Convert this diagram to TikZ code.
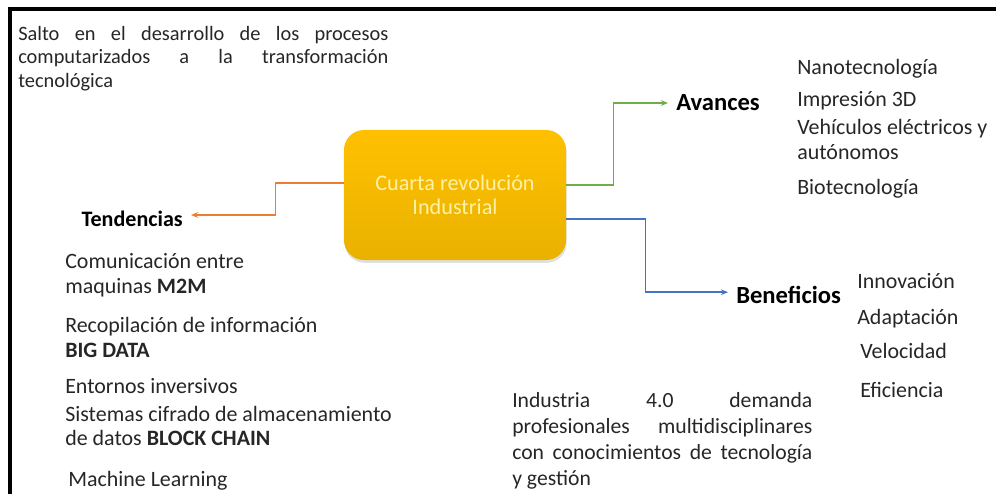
\documentclass[tikz,border=0pt]{standalone}
\usepackage{fontspec}
\setmainfont{Carlito}
\usetikzlibrary{positioning, arrows.meta, shadows}
\usepackage{xcolor}
\definecolor{tendorange}{HTML}{ED7D31}
\definecolor{avgreen}{HTML}{70AD47}
\definecolor{benblue}{HTML}{4472C4}
\definecolor{coregold}{HTML}{FFC000}
\definecolor{coredark}{HTML}{E9B200}
\definecolor{corefont}{HTML}{FFF2A6}
\definecolor{txtgray}{HTML}{262626}

\begin{document}
\begin{tikzpicture}[x=0.025cm, y=-0.025cm,
                core/.style={rectangle, rounded corners=0.5cm, minimum width=5.55cm, minimum height=3.25cm,
                    align=center, top color=coregold, bottom color=coredark, draw=none,
                    drop shadow={opacity=0.25, shadow xshift=0.5pt, shadow yshift=-2pt},
                    text=corefont, font=\fontsize{15.8}{17.2}\selectfont},
                head/.style={inner xsep=0.2cm, inner ysep=0pt, font=\fontsize{17.5}{20}\selectfont\bfseries, text=black},
                item/.style={anchor=base west, inner sep=0pt, text=txtgray, font=\fontsize{15.6}{18.5}\selectfont},
                para/.style={anchor=north west, inner sep=0pt, align=justify, text=txtgray},
                link/.style={-{Stealth[length=5pt, width=4pt]}, line width=1.1pt}
            ]
            \useasboundingbox (0,0) rectangle (996,494);
            % frame
            \draw[line width=2.2pt] (10,494) -- (10,9) -- (996,9);

            % texts on top and at the bottom
            \node[para, text width=9.25cm, font=\fontsize{14.5}{16.7}\selectfont] (intro) at (18,26)
                {Salto en el desarrollo de los procesos\linebreak computarizados a la transformación\linebreak tecnológica};
            \node[para, text width=7.5cm, font=\fontsize{15.4}{18.6}\selectfont] (demand) at (512,392)
                {Industria 4.0 demanda\linebreak profesionales multidisciplinares\linebreak con conocimientos de tecnología\linebreak y gestión};

            % center
            \node[core] (core) at (455,195) {Cuarta revolución\\Industrial};

            % headings
            \node[head, anchor=east, font=\fontsize{15.7}{19}\selectfont\bfseries] (tend) at (191,219) {Tendencias};
            \node[head, anchor=west] (avn) at (668,103) {Avances};
            \node[head, anchor=west] (ben) at (728,295) {Beneficios};

            \draw[link, tendorange] ([yshift=0.3cm]core.west) -- ++(-68,0) |- ([yshift=0.1cm]tend.east);
            \draw[link, avgreen] ([yshift=0.25cm]core.east) -- ++(47,0) |- (avn.west);
            \draw[link, benblue] ([yshift=-0.6cm]core.east) -- ++(79,0) |- ([yshift=0.07cm]ben.west);

            % Avances
            \node[item] (av1) at (797,74) {Nanotecnología};
            \node[item] (av2) at (797,106) {Impresión 3D};
            \node[item] (av3) at (797,134) {Vehículos eléctricos y};
            \node[item] (av4) at (797,159) {autónomos};
            \node[item] (av5) at (797,194) {Biotecnología};

            % Beneficios
            \node[item] (be1) at (857,288) {Innovación};
            \node[item] (be2) at (857,324) {Adaptación};
            \node[item] (be3) at (860,358) {Velocidad};
            \node[item] (be4) at (860,397) {Eficiencia};

            % Tendencias
            \node[item] (te1) at (65,268) {Comunicación entre};
            \node[item] (te2) at (65,293) {maquinas \textbf{M2M}};
            \node[item] (te3) at (65,332) {Recopilación de información};
            \node[item] (te4) at (65,357) {\textbf{BIG DATA}};
            \node[item] (te5) at (65,393) {Entornos inversivos};
            \node[item] (te6) at (65,421) {Sistemas cifrado de almacenamiento};
            \node[item] (te7) at (65,445) {de datos \textbf{BLOCK CHAIN}};
            \node[item] (te8) at (68,486) {Machine Learning};
        \end{tikzpicture}
\end{document}
